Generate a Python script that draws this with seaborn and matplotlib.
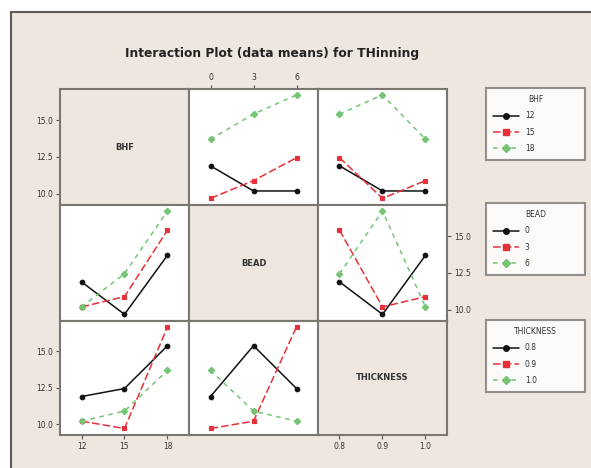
import matplotlib
matplotlib.use("Agg")
import matplotlib.pyplot as plt
from matplotlib.lines import Line2D
from matplotlib.patches import Rectangle
import seaborn as sns
import pandas as pd

bhf = [12, 12, 12, 15, 15, 15, 18, 18, 18]
bead = [0, 3, 6, 0, 3, 6, 0, 3, 6]
thickness = [0.8, 0.9, 1.0, 0.9, 1.0, 0.8, 1.0, 0.8, 0.9]
thinning = [11.9, 10.2, 10.2, 9.7, 10.9, 12.45, 13.7, 15.4, 16.7]

factors = ["BHF", "BEAD", "THICKNESS"]
level_labels = {"BHF": ["12", "15", "18"],
                "BEAD": ["0", "3", "6"],
                "THICKNESS": ["0.8", "0.9", "1.0"]}
yticks = [10.0, 12.5, 15.0]

df = pd.DataFrame({"BHF": bhf, "BEAD": bead, "THICKNESS": thickness, "THinning": thinning})

sns.set_theme(style="white")
plt.rcParams["font.family"] = ["DejaVu Sans"]

colors = ["#111111", "#e8303a", "#74c474"]
markers = ["o", "s", "D"]
linestyles = ["-", (0, (5, 2)), (0, (3, 3))]
bg = "#ede7df"
spine_c = "#7a7672"

W, H = 591, 468
fig = plt.figure(figsize=(W / 100, H / 100), dpi=100, facecolor="white")
fig.patches.append(Rectangle((11 / W, -0.01), 1.0, 1 - 12 / H + 0.01, transform=fig.transFigure,
                             facecolor=bg, edgecolor="#5f5a55", linewidth=1.5, zorder=-10))

fig.text(272 / W, 1 - 53 / H, "Interaction Plot (data means) for THinning",
         ha="center", va="center", fontsize=8.8, fontweight="bold", color="#222222")

xs = [60, 189, 318, 447]
ys = [89, 205, 321, 435]
axes = [[None] * 3 for _ in range(3)]
for i in range(3):
    for j in range(3):
        ax = fig.add_axes([xs[j] / W, 1 - ys[i + 1] / H, (xs[j + 1] - xs[j]) / W, (ys[i + 1] - ys[i]) / H])
        axes[i][j] = ax
        if i == j:
            ax.set_facecolor(bg)
            ax.text(0.5, 0.5, factors[i], transform=ax.transAxes, ha="center", va="center",
                    fontsize=6, fontweight="bold", color="#333333")
            ax.set_xlim(-0.5, 2.5)
        else:
            ax.set_facecolor("white")
            sns.pointplot(data=df, x=factors[j], y="THinning", hue=factors[i],
                          palette=colors, markers=markers, linestyles=linestyles,
                          errorbar=None, legend=False, markersize=3.3, linewidth=1.1, ax=ax)
            ax.set_xlim(-0.5, 2.5)
        ax.set_ylim(9.25, 17.1)
        ax.set_xlabel("")
        ax.set_ylabel("")
        for s in ax.spines.values():
            s.set_color(spine_c)
            s.set_linewidth(1.5)
        ax.tick_params(left=False, bottom=False, labelleft=False, labelbottom=False)

tick_kw = dict(length=3, width=0.8, color="#555555", labelsize=5.5, labelcolor="#333333", pad=2)

# left y axis for rows 1 and 3, right y axis for row 2
for i in (0, 2):
    ax = axes[i][0]
    ax.set_yticks(yticks)
    ax.set_yticklabels([f"{v:.1f}" for v in yticks])
    ax.tick_params(axis="y", left=True, labelleft=True, **tick_kw)
ax = axes[1][2]
ax.set_yticks(yticks)
ax.set_yticklabels([f"{v:.1f}" for v in yticks])
ax.yaxis.tick_right()
ax.tick_params(axis="y", right=True, labelright=True, **tick_kw)

# x axes: bottom for col 1 and 3, top for col 2
for j in (0, 2):
    ax = axes[2][j]
    ax.set_xticks([0, 1, 2])
    ax.set_xticklabels(level_labels[factors[j]])
    ax.tick_params(axis="x", bottom=True, labelbottom=True, **tick_kw)
ax = axes[0][1]
ax.set_xticks([0, 1, 2])
ax.set_xticklabels(level_labels["BEAD"])
ax.xaxis.tick_top()
ax.tick_params(axis="x", top=True, labeltop=True, **tick_kw)

# legends, one per row factor
leg_tops = [89, 204, 321]
for i, f in enumerate(factors):
    handles = [Line2D([], [], color=c, marker=m, linestyle=ls, markersize=4, linewidth=1.1)
               for c, m, ls in zip(colors, markers, linestyles)]
    leg = fig.legend(handles, level_labels[f], title=f, loc="upper left",
                     bbox_to_anchor=(482 / W, 1 - leg_tops[i] / H, 107 / W, 0.01),
                     mode="expand", fontsize=5.5, title_fontsize=5.5, handlelength=3.4,
                     frameon=True, fancybox=False, borderpad=0.9, labelspacing=0.95,
                     alignment="center")
    leg.get_frame().set_edgecolor(spine_c)
    leg.get_frame().set_linewidth(1.5)
    leg.get_frame().set_facecolor("white")
    leg.get_title().set_color("#333333")
    for t in leg.get_texts():
        t.set_color("#333333")

fig.savefig("out.png", dpi=100, facecolor="white")
